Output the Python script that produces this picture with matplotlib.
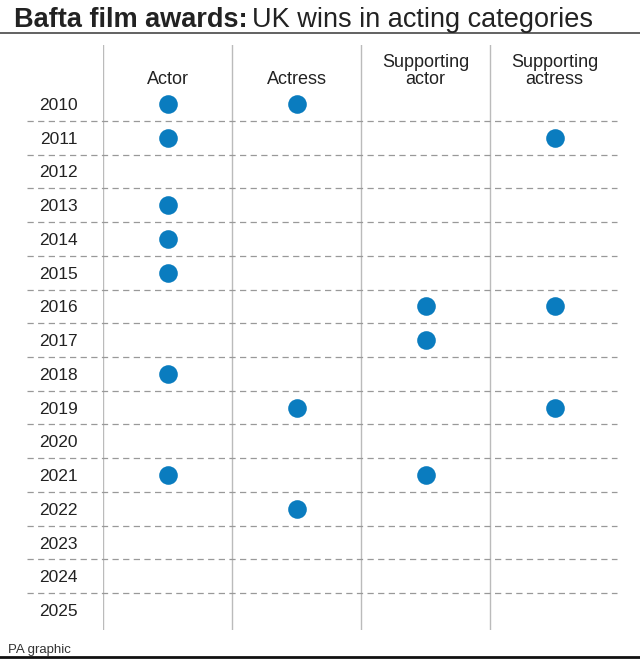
import matplotlib
matplotlib.use('agg')
import matplotlib.pyplot as plt

plt.rcParams['font.family'] = ['Liberation Sans', 'DejaVu Sans']

categories = ['Actor', 'Actress', 'Supporting\nactor', 'Supporting\nactress']
years = list(range(2010, 2026))
wins = {
    'Actor': [2010, 2011, 2013, 2014, 2015, 2018, 2021],
    'Actress': [2010, 2019, 2022],
    'Supporting\nactor': [2016, 2017, 2021],
    'Supporting\nactress': [2011, 2016, 2019],
}

W, H = 640, 661
fig = plt.figure(figsize=(W / 100, H / 100), dpi=100)

# axes in pixel terms: left 103, right 619, top 45, bottom 630
ax = fig.add_axes([103 / W, 1 - 630 / H, 516 / W, 585 / H])
ax.set_xlim(-0.5, 3.5)
row = (610 - 104) / 15.0
ax.set_ylim(2025 + (630 - 610) / row, 2010 - (104 - 45) / row)
for s in ax.spines.values():
    s.set_visible(False)
ax.set_xticks([])
ax.set_yticks(years)
ax.set_yticklabels([str(y) for y in years], fontsize=12.5, color='#222222')
ax.tick_params(axis='y', length=0, pad=18)

for i in range(4):
    ax.axvline(i - 0.5, color='#bbbbbb', lw=1.0)

yt = ax.get_yaxis_transform()
for y in years[:-1]:
    ax.plot([-0.147, 0.996], [y + 0.5, y + 0.5], transform=yt, clip_on=False,
            color='#999999', lw=0.9, dashes=(5, 3.5))

for i, cat in enumerate(categories):
    ys = wins[cat]
    ax.scatter([i] * len(ys), ys, s=180, color='#0a7cbf', zorder=3, linewidths=0)
    ax.text(i, 2010 - 16 / row, cat, ha='center', va='bottom', fontsize=13,
            color='#222222', linespacing=1.0)

# title
t1 = fig.text(14 / W, 1 - 27 / H, 'Bafta film awards:', fontsize=19.5, fontweight='bold',
              color='#222222', va='baseline', ha='left')
fig.canvas.draw()
bb = t1.get_window_extent()
fig.text(bb.x1 / W + 4 / W, 1 - 27 / H, 'UK wins in acting categories', fontsize=19.5,
         color='#222222', va='baseline', ha='left')

fig.add_artist(plt.Line2D([0, 1], [1 - 33 / H, 1 - 33 / H], color='#555555', lw=1.3))
fig.add_artist(plt.Line2D([0, 1], [1 - 657 / H, 1 - 657 / H], color='#111111', lw=2))
fig.text(8 / W, 1 - 653 / H, 'PA graphic', fontsize=9.5, color='#333333', va='baseline')

fig.savefig('out.png', dpi=100)
